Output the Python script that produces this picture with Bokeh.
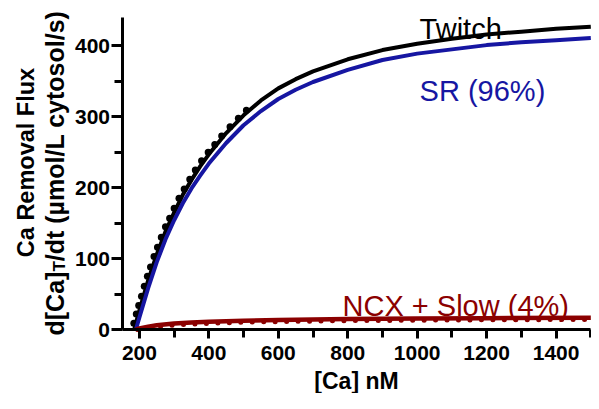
from math import pi
from bokeh.plotting import figure
from bokeh.models import Range1d, FixedTicker, Label
from bokeh.embed import file_html
from bokeh.resources import INLINE

# ---- data ----
twitch_x = [185, 200, 225, 250, 275, 300, 325, 350, 375, 400, 450, 500, 550, 600,
            650, 700, 800, 900, 1000, 1100, 1200, 1300, 1400, 1500]
twitch_y = [0, 27, 69, 106, 138, 165, 190, 211, 230, 247, 277, 302, 323, 340,
            353, 364, 381, 394, 403, 410, 416, 420, 424, 427]

twitch_dot_x = [184, 191, 198, 206, 214, 223, 232, 242, 252, 263, 275, 287, 300, 314,
                329, 345, 361, 379, 398, 417, 437, 461, 485, 508]
twitch_dot_y = [9, 22, 34, 47, 61, 75, 88, 103, 116, 130, 145, 157, 171, 185,
                198, 212, 225, 238, 250, 261, 273, 286, 298, 309]

sr_x = [190, 200, 225, 250, 275, 300, 325, 350, 375, 400, 450, 500, 550, 600,
        650, 700, 800, 900, 1000, 1100, 1200, 1300, 1400, 1500]
sr_y = [0, 17, 58, 95, 127, 154, 178, 199, 217, 234, 263, 288, 308, 325,
        338, 349, 366, 380, 389, 395, 401, 405, 408, 411]

ncx_x = [190, 200, 225, 250, 300, 350, 400, 500, 600, 700, 800, 1000, 1200, 1500]
ncx_y = [0, 1.5, 4, 6, 8.5, 10, 11, 12.5, 13.5, 14.2, 14.8, 15.5, 16, 16.5]

ncx_dot_x = [195, 228, 261, 294, 327, 360, 393, 426, 459, 492, 525, 558, 591, 624,
             657, 690, 723, 756, 789, 822, 855, 888, 921, 954, 987, 1020, 1053,
             1086, 1119, 1152, 1185, 1218, 1251, 1284, 1317, 1350, 1383, 1416,
             1449, 1482]
ncx_dot_y = [0, 1.9, 4.3, 5.9, 7.0, 7.9, 8.6, 9.1, 9.6, 10.1, 10.5, 10.8, 11.1, 11.4,
             11.6, 11.8, 12.0, 12.2, 12.4, 12.6, 12.7, 12.8, 12.9, 13.0, 13.15, 13.25,
             13.3, 13.4, 13.5, 13.6, 13.7, 13.7, 13.8, 13.8, 13.9, 13.95, 14.0, 14.05,
             14.1, 14.2]

x_ticks = [200, 400, 600, 800, 1000, 1200, 1400]
x_minor = [300, 500, 700, 900, 1100, 1300, 1500]
y_ticks = [0, 100, 200, 300, 400]
y_minor = [50, 150, 250, 350]
x_axis_bounds = (150, 1500)
y_axis_bounds = (0, 440)

BLACK = "#000000"
BLUE = "#1616a2"
RED = "#8b0000"
FONT = "Liberation Sans"

# the frame fills the whole canvas; axes sit at fixed data locations inside it
p = figure(width=591, height=393, x_range=Range1d(-200, 1502), y_range=Range1d(-90.2, 463.9),
           output_backend="svg", toolbar_location=None,
           min_border_left=0, min_border_right=0, min_border_top=0, min_border_bottom=0)
p.outline_line_color = None
p.grid.visible = False
p.background_fill_color = "white"
p.border_fill_color = "white"

p.xaxis.ticker = FixedTicker(ticks=x_ticks, minor_ticks=x_minor)
p.yaxis.ticker = FixedTicker(ticks=y_ticks, minor_ticks=y_minor)
p.xaxis.fixed_location = 0
p.yaxis.fixed_location = 150
p.xaxis.bounds = x_axis_bounds
p.yaxis.bounds = y_axis_bounds
for ax in (p.xaxis[0], p.yaxis[0]):
    ax.axis_line_width = 3
    ax.axis_line_color = "black"
    ax.major_tick_line_width = 3
    ax.minor_tick_line_width = 3
    ax.major_tick_line_color = "black"
    ax.minor_tick_line_color = "black"
    ax.major_tick_in = 0
    ax.minor_tick_in = 0
    ax.minor_tick_out = 8
    ax.major_label_text_font = FONT
    ax.major_label_text_font_style = "bold"
    ax.major_label_text_font_size = "21px"
    ax.major_label_text_color = "black"
p.xaxis.major_tick_out = 9
p.xaxis.major_label_standoff = 7
p.yaxis.major_tick_out = 11
p.yaxis.major_label_standoff = 1

# ---- curves ----
p.line(twitch_x, twitch_y, line_color=BLACK, line_width=4)
p.scatter(twitch_dot_x, twitch_dot_y, size=7, fill_color=BLACK, line_color=None)
p.line(sr_x, sr_y, line_color=BLUE, line_width=4)
p.line(ncx_x, ncx_y, line_color=RED, line_width=4.5)
p.scatter(ncx_dot_x, ncx_dot_y, size=5, fill_color=RED, line_color=None)

# ---- series labels ----
for txt, x, y, col in [("Twitch", 1007, 424, BLACK),
                       ("SR (96%)", 1007, 337, BLUE),
                       ("NCX + Slow (4%)", 785, 33.5, RED)]:
    p.add_layout(Label(x=x, y=y, text=txt, text_color=col, text_font=FONT,
                       text_font_size="29px", text_align="left",
                       text_baseline="alphabetic"))

# ---- axis titles ----
p.add_layout(Label(x=356, y=13, x_units="screen", y_units="screen", text="[Ca] nM",
                   text_font=FONT, text_font_size="23px", text_font_style="bold",
                   text_align="center", text_baseline="alphabetic", text_color="black"))

p.add_layout(Label(x=25, y=231, x_units="screen", y_units="screen",
                   text="Ca Removal Flux", angle=pi / 2,
                   text_font=FONT, text_font_size="23.5px", text_font_style="bold",
                   text_align="center", text_baseline="alphabetic", text_color="black"))

y0 = 58
p.add_layout(Label(x=54, y=y0, x_units="screen", y_units="screen",
                   text="d[Ca]", angle=pi / 2,
                   text_font=FONT, text_font_size="25px", text_font_style="bold",
                   text_align="left", text_baseline="alphabetic", text_color="black"))
p.add_layout(Label(x=59, y=y0 + 63.9, x_units="screen", y_units="screen",
                   text="T", angle=pi / 2,
                   text_font=FONT, text_font_size="17px", text_font_style="bold",
                   text_align="left", text_baseline="alphabetic", text_color="black"))
p.add_layout(Label(x=54, y=y0 + 63.9 + 10.4, x_units="screen", y_units="screen",
                   text="/dt (µmol/L cytosol/s)", angle=pi / 2,
                   text_font=FONT, text_font_size="25px", text_font_style="bold",
                   text_align="left", text_baseline="alphabetic", text_color="black"))

open("out.html", "w").write(file_html(p, INLINE))
